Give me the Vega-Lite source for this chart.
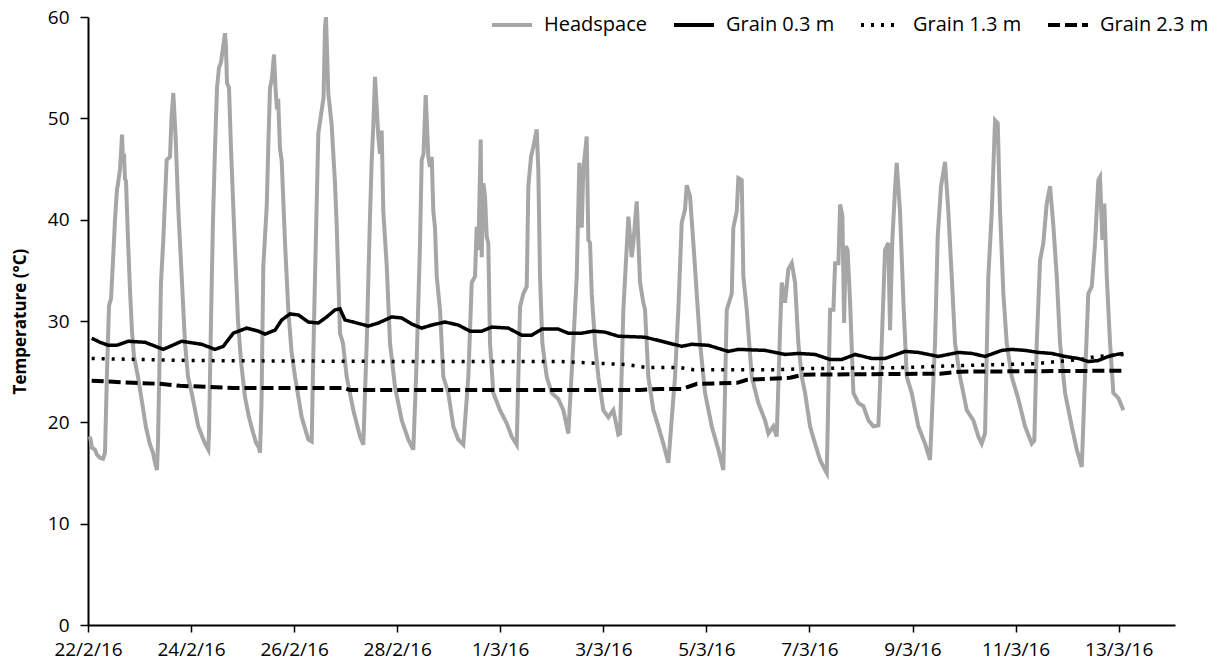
{
  "$schema": "https://vega.github.io/schema/vega-lite/v6.json",
  "width": 1087,
  "height": 608,
  "autosize": {"type": "none"},
  "padding": {"left": 88, "top": 17, "right": 47, "bottom": 38},
  "background": "white",
  "config": {
    "view": {"stroke": null},
    "font": "Open Sans",
    "axis": {"domainColor": "black", "domainWidth": 2, "tickColor": "black", "tickWidth": 1.5, "labelColor": "black", "labelFont": "Open Sans", "labelFontSize": 19, "grid": false}
  },
  "data": {"values": [
    {"t":"2016-02-22T00:56","s":"Headspace","v":18.6},
    {"t":"2016-02-22T01:52","s":"Headspace","v":17.5},
    {"t":"2016-02-22T03:16","s":"Headspace","v":17.3},
    {"t":"2016-02-22T04:11","s":"Headspace","v":16.8},
    {"t":"2016-02-22T05:35","s":"Headspace","v":16.5},
    {"t":"2016-02-22T06:59","s":"Headspace","v":16.4},
    {"t":"2016-02-22T07:55","s":"Headspace","v":17.0},
    {"t":"2016-02-22T08:51","s":"Headspace","v":25.0},
    {"t":"2016-02-22T09:47","s":"Headspace","v":31.5},
    {"t":"2016-02-22T10:43","s":"Headspace","v":32.2},
    {"t":"2016-02-22T11:39","s":"Headspace","v":36.0},
    {"t":"2016-02-22T12:35","s":"Headspace","v":40.0},
    {"t":"2016-02-22T13:30","s":"Headspace","v":43.0},
    {"t":"2016-02-22T13:58","s":"Headspace","v":43.5},
    {"t":"2016-02-22T14:54","s":"Headspace","v":45.0},
    {"t":"2016-02-22T15:22","s":"Headspace","v":46.5},
    {"t":"2016-02-22T15:50","s":"Headspace","v":48.4},
    {"t":"2016-02-22T16:18","s":"Headspace","v":46.0},
    {"t":"2016-02-22T16:46","s":"Headspace","v":46.5},
    {"t":"2016-02-22T17:14","s":"Headspace","v":44.0},
    {"t":"2016-02-22T17:42","s":"Headspace","v":43.8},
    {"t":"2016-02-22T18:38","s":"Headspace","v":38.0},
    {"t":"2016-02-22T19:34","s":"Headspace","v":33.0},
    {"t":"2016-02-22T20:29","s":"Headspace","v":29.0},
    {"t":"2016-02-22T21:25","s":"Headspace","v":26.5},
    {"t":"2016-02-22T23:17","s":"Headspace","v":24.5},
    {"t":"2016-02-23T01:09","s":"Headspace","v":22.0},
    {"t":"2016-02-23T03:01","s":"Headspace","v":19.5},
    {"t":"2016-02-23T04:53","s":"Headspace","v":17.8},
    {"t":"2016-02-23T06:16","s":"Headspace","v":17.0},
    {"t":"2016-02-23T07:13","s":"Headspace","v":16.0},
    {"t":"2016-02-23T08:08","s":"Headspace","v":15.3},
    {"t":"2016-02-23T08:36","s":"Headspace","v":18.0},
    {"t":"2016-02-23T10:00","s":"Headspace","v":33.8},
    {"t":"2016-02-23T11:04","s":"Headspace","v":38.0},
    {"t":"2016-02-23T12:39","s":"Headspace","v":45.9},
    {"t":"2016-02-23T14:12","s":"Headspace","v":46.2},
    {"t":"2016-02-23T14:53","s":"Headspace","v":50.0},
    {"t":"2016-02-23T15:44","s":"Headspace","v":52.5},
    {"t":"2016-02-23T16:51","s":"Headspace","v":47.9},
    {"t":"2016-02-23T18:04","s":"Headspace","v":41.0},
    {"t":"2016-02-23T19:38","s":"Headspace","v":34.4},
    {"t":"2016-02-23T21:11","s":"Headspace","v":27.8},
    {"t":"2016-02-23T22:35","s":"Headspace","v":24.5},
    {"t":"2016-02-24T00:18","s":"Headspace","v":22.9},
    {"t":"2016-02-24T03:22","s":"Headspace","v":19.6},
    {"t":"2016-02-24T06:30","s":"Headspace","v":17.9},
    {"t":"2016-02-24T08:02","s":"Headspace","v":17.3},
    {"t":"2016-02-24T08:22","s":"Headspace","v":19.0},
    {"t":"2016-02-24T09:17","s":"Headspace","v":30.0},
    {"t":"2016-02-24T10:13","s":"Headspace","v":40.0},
    {"t":"2016-02-24T11:09","s":"Headspace","v":47.0},
    {"t":"2016-02-24T12:05","s":"Headspace","v":53.0},
    {"t":"2016-02-24T13:01","s":"Headspace","v":55.0},
    {"t":"2016-02-24T13:56","s":"Headspace","v":55.5},
    {"t":"2016-02-24T14:53","s":"Headspace","v":57.0},
    {"t":"2016-02-24T15:49","s":"Headspace","v":58.4},
    {"t":"2016-02-24T16:16","s":"Headspace","v":57.0},
    {"t":"2016-02-24T16:44","s":"Headspace","v":53.5},
    {"t":"2016-02-24T17:40","s":"Headspace","v":53.0},
    {"t":"2016-02-24T18:36","s":"Headspace","v":47.0},
    {"t":"2016-02-24T19:32","s":"Headspace","v":42.0},
    {"t":"2016-02-24T20:28","s":"Headspace","v":37.0},
    {"t":"2016-02-24T21:52","s":"Headspace","v":30.0},
    {"t":"2016-02-24T23:16","s":"Headspace","v":26.0},
    {"t":"2016-02-25T01:07","s":"Headspace","v":22.5},
    {"t":"2016-02-25T02:59","s":"Headspace","v":20.5},
    {"t":"2016-02-25T04:51","s":"Headspace","v":19.0},
    {"t":"2016-02-25T06:15","s":"Headspace","v":18.0},
    {"t":"2016-02-25T07:38","s":"Headspace","v":17.5},
    {"t":"2016-02-25T08:07","s":"Headspace","v":17.0},
    {"t":"2016-02-25T08:49","s":"Headspace","v":22.0},
    {"t":"2016-02-25T09:39","s":"Headspace","v":35.4},
    {"t":"2016-02-25T11:14","s":"Headspace","v":41.3},
    {"t":"2016-02-25T12:04","s":"Headspace","v":48.0},
    {"t":"2016-02-25T12:46","s":"Headspace","v":53.0},
    {"t":"2016-02-25T13:42","s":"Headspace","v":54.0},
    {"t":"2016-02-25T14:38","s":"Headspace","v":56.3},
    {"t":"2016-02-25T15:20","s":"Headspace","v":53.0},
    {"t":"2016-02-25T15:53","s":"Headspace","v":51.3},
    {"t":"2016-02-25T16:38","s":"Headspace","v":51.5},
    {"t":"2016-02-25T17:25","s":"Headspace","v":47.0},
    {"t":"2016-02-25T18:13","s":"Headspace","v":45.8},
    {"t":"2016-02-25T19:46","s":"Headspace","v":37.7},
    {"t":"2016-02-25T21:17","s":"Headspace","v":31.1},
    {"t":"2016-02-25T22:47","s":"Headspace","v":27.0},
    {"t":"2016-02-26T00:25","s":"Headspace","v":24.5},
    {"t":"2016-02-26T03:32","s":"Headspace","v":20.5},
    {"t":"2016-02-26T06:37","s":"Headspace","v":18.3},
    {"t":"2016-02-26T08:11","s":"Headspace","v":18.1},
    {"t":"2016-02-26T08:47","s":"Headspace","v":25.0},
    {"t":"2016-02-26T09:44","s":"Headspace","v":34.4},
    {"t":"2016-02-26T11:16","s":"Headspace","v":48.5},
    {"t":"2016-02-26T12:50","s":"Headspace","v":50.8},
    {"t":"2016-02-26T13:41","s":"Headspace","v":52.0},
    {"t":"2016-02-26T14:23","s":"Headspace","v":59.0},
    {"t":"2016-02-26T14:51","s":"Headspace","v":60.0},
    {"t":"2016-02-26T15:55","s":"Headspace","v":52.5},
    {"t":"2016-02-26T17:30","s":"Headspace","v":49.3},
    {"t":"2016-02-26T19:02","s":"Headspace","v":43.6},
    {"t":"2016-02-26T19:50","s":"Headspace","v":39.4},
    {"t":"2016-02-26T21:22","s":"Headspace","v":28.8},
    {"t":"2016-02-26T22:46","s":"Headspace","v":27.8},
    {"t":"2016-02-27T00:29","s":"Headspace","v":24.5},
    {"t":"2016-02-27T03:34","s":"Headspace","v":21.2},
    {"t":"2016-02-27T06:41","s":"Headspace","v":18.6},
    {"t":"2016-02-27T08:13","s":"Headspace","v":17.8},
    {"t":"2016-02-27T09:48","s":"Headspace","v":27.8},
    {"t":"2016-02-27T11:20","s":"Headspace","v":40.3},
    {"t":"2016-02-27T12:08","s":"Headspace","v":45.9},
    {"t":"2016-02-27T12:53","s":"Headspace","v":49.3},
    {"t":"2016-02-27T13:40","s":"Headspace","v":54.1},
    {"t":"2016-02-27T15:13","s":"Headspace","v":48.2},
    {"t":"2016-02-27T16:00","s":"Headspace","v":46.5},
    {"t":"2016-02-27T16:47","s":"Headspace","v":48.8},
    {"t":"2016-02-27T17:32","s":"Headspace","v":40.8},
    {"t":"2016-02-27T19:07","s":"Headspace","v":35.5},
    {"t":"2016-02-27T20:40","s":"Headspace","v":27.8},
    {"t":"2016-02-27T22:59","s":"Headspace","v":23.5},
    {"t":"2016-02-28T02:07","s":"Headspace","v":20.2},
    {"t":"2016-02-28T05:11","s":"Headspace","v":18.3},
    {"t":"2016-02-28T07:31","s":"Headspace","v":17.3},
    {"t":"2016-02-28T09:05","s":"Headspace","v":26.2},
    {"t":"2016-02-28T10:38","s":"Headspace","v":37.7},
    {"t":"2016-02-28T11:25","s":"Headspace","v":45.9},
    {"t":"2016-02-28T12:16","s":"Headspace","v":46.5},
    {"t":"2016-02-28T13:17","s":"Headspace","v":52.3},
    {"t":"2016-02-28T14:30","s":"Headspace","v":46.2},
    {"t":"2016-02-28T15:17","s":"Headspace","v":45.2},
    {"t":"2016-02-28T16:05","s":"Headspace","v":46.2},
    {"t":"2016-02-28T16:50","s":"Headspace","v":40.8},
    {"t":"2016-02-28T17:37","s":"Headspace","v":39.2},
    {"t":"2016-02-28T18:25","s":"Headspace","v":34.4},
    {"t":"2016-02-28T19:57","s":"Headspace","v":31.1},
    {"t":"2016-02-28T21:29","s":"Headspace","v":24.5},
    {"t":"2016-02-28T23:49","s":"Headspace","v":22.9},
    {"t":"2016-02-29T02:08","s":"Headspace","v":19.6},
    {"t":"2016-02-29T04:28","s":"Headspace","v":18.3},
    {"t":"2016-02-29T06:48","s":"Headspace","v":17.8},
    {"t":"2016-02-29T09:08","s":"Headspace","v":24.5},
    {"t":"2016-02-29T10:43","s":"Headspace","v":33.8},
    {"t":"2016-02-29T12:15","s":"Headspace","v":34.4},
    {"t":"2016-02-29T13:02","s":"Headspace","v":39.3},
    {"t":"2016-02-29T13:47","s":"Headspace","v":37.0},
    {"t":"2016-02-29T14:54","s":"Headspace","v":47.9},
    {"t":"2016-02-29T15:22","s":"Headspace","v":36.3},
    {"t":"2016-02-29T16:07","s":"Headspace","v":43.6},
    {"t":"2016-02-29T16:54","s":"Headspace","v":42.3},
    {"t":"2016-02-29T17:42","s":"Headspace","v":38.3},
    {"t":"2016-02-29T18:26","s":"Headspace","v":37.7},
    {"t":"2016-02-29T19:14","s":"Headspace","v":27.8},
    {"t":"2016-02-29T20:46","s":"Headspace","v":22.9},
    {"t":"2016-02-29T23:53","s":"Headspace","v":21.2},
    {"t":"2016-03-01T03:01","s":"Headspace","v":19.9},
    {"t":"2016-03-01T05:20","s":"Headspace","v":18.6},
    {"t":"2016-03-01T07:40","s":"Headspace","v":17.8},
    {"t":"2016-03-01T09:13","s":"Headspace","v":31.4},
    {"t":"2016-03-01T10:45","s":"Headspace","v":32.7},
    {"t":"2016-03-01T12:20","s":"Headspace","v":33.4},
    {"t":"2016-03-01T13:05","s":"Headspace","v":43.3},
    {"t":"2016-03-01T14:20","s":"Headspace","v":46.2},
    {"t":"2016-03-01T15:24","s":"Headspace","v":47.2},
    {"t":"2016-03-01T16:59","s":"Headspace","v":48.9},
    {"t":"2016-03-01T17:44","s":"Headspace","v":44.9},
    {"t":"2016-03-01T18:31","s":"Headspace","v":34.4},
    {"t":"2016-03-01T19:36","s":"Headspace","v":27.8},
    {"t":"2016-03-01T21:38","s":"Headspace","v":24.5},
    {"t":"2016-03-01T23:58","s":"Headspace","v":22.9},
    {"t":"2016-03-02T03:03","s":"Headspace","v":22.3},
    {"t":"2016-03-02T05:23","s":"Headspace","v":21.2},
    {"t":"2016-03-02T07:42","s":"Headspace","v":18.9},
    {"t":"2016-03-02T10:02","s":"Headspace","v":27.8},
    {"t":"2016-03-02T11:37","s":"Headspace","v":34.4},
    {"t":"2016-03-02T12:50","s":"Headspace","v":45.6},
    {"t":"2016-03-02T13:57","s":"Headspace","v":39.2},
    {"t":"2016-03-02T14:41","s":"Headspace","v":44.9},
    {"t":"2016-03-02T16:16","s":"Headspace","v":48.2},
    {"t":"2016-03-02T17:01","s":"Headspace","v":38.0},
    {"t":"2016-03-02T17:49","s":"Headspace","v":37.7},
    {"t":"2016-03-02T18:36","s":"Headspace","v":32.7},
    {"t":"2016-03-02T20:08","s":"Headspace","v":27.8},
    {"t":"2016-03-02T21:41","s":"Headspace","v":24.5},
    {"t":"2016-03-03T00:01","s":"Headspace","v":21.2},
    {"t":"2016-03-03T02:20","s":"Headspace","v":20.5},
    {"t":"2016-03-03T04:40","s":"Headspace","v":21.2},
    {"t":"2016-03-03T06:59","s":"Headspace","v":18.8},
    {"t":"2016-03-03T07:47","s":"Headspace","v":18.9},
    {"t":"2016-03-03T09:20","s":"Headspace","v":31.1},
    {"t":"2016-03-03T11:40","s":"Headspace","v":40.3},
    {"t":"2016-03-03T13:14","s":"Headspace","v":36.3},
    {"t":"2016-03-03T13:59","s":"Headspace","v":37.7},
    {"t":"2016-03-03T15:34","s":"Headspace","v":41.8},
    {"t":"2016-03-03T17:06","s":"Headspace","v":33.8},
    {"t":"2016-03-03T18:38","s":"Headspace","v":31.8},
    {"t":"2016-03-03T19:26","s":"Headspace","v":31.1},
    {"t":"2016-03-03T20:58","s":"Headspace","v":24.5},
    {"t":"2016-03-03T23:18","s":"Headspace","v":21.2},
    {"t":"2016-03-04T01:38","s":"Headspace","v":19.6},
    {"t":"2016-03-04T03:57","s":"Headspace","v":17.9},
    {"t":"2016-03-04T06:17","s":"Headspace","v":16.0},
    {"t":"2016-03-04T09:24","s":"Headspace","v":24.5},
    {"t":"2016-03-04T10:56","s":"Headspace","v":31.1},
    {"t":"2016-03-04T12:31","s":"Headspace","v":39.7},
    {"t":"2016-03-04T14:04","s":"Headspace","v":41.0},
    {"t":"2016-03-04T14:51","s":"Headspace","v":43.4},
    {"t":"2016-03-04T16:23","s":"Headspace","v":42.3},
    {"t":"2016-03-04T17:56","s":"Headspace","v":37.7},
    {"t":"2016-03-04T19:31","s":"Headspace","v":32.7},
    {"t":"2016-03-04T21:03","s":"Headspace","v":27.8},
    {"t":"2016-03-04T23:23","s":"Headspace","v":22.9},
    {"t":"2016-03-05T02:30","s":"Headspace","v":19.6},
    {"t":"2016-03-05T05:34","s":"Headspace","v":17.3},
    {"t":"2016-03-05T07:54","s":"Headspace","v":15.3},
    {"t":"2016-03-05T09:29","s":"Headspace","v":31.1},
    {"t":"2016-03-05T11:49","s":"Headspace","v":32.7},
    {"t":"2016-03-05T12:33","s":"Headspace","v":39.2},
    {"t":"2016-03-05T14:08","s":"Headspace","v":40.8},
    {"t":"2016-03-05T14:53","s":"Headspace","v":44.1},
    {"t":"2016-03-05T16:28","s":"Headspace","v":43.9},
    {"t":"2016-03-05T17:13","s":"Headspace","v":34.4},
    {"t":"2016-03-05T18:48","s":"Headspace","v":31.1},
    {"t":"2016-03-05T21:08","s":"Headspace","v":24.5},
    {"t":"2016-03-06T00:12","s":"Headspace","v":21.9},
    {"t":"2016-03-06T03:19","s":"Headspace","v":20.2},
    {"t":"2016-03-06T04:52","s":"Headspace","v":18.9},
    {"t":"2016-03-06T07:11","s":"Headspace","v":19.6},
    {"t":"2016-03-06T08:46","s":"Headspace","v":18.6},
    {"t":"2016-03-06T10:19","s":"Headspace","v":29.1},
    {"t":"2016-03-06T11:06","s":"Headspace","v":33.8},
    {"t":"2016-03-06T12:38","s":"Headspace","v":31.8},
    {"t":"2016-03-06T14:10","s":"Headspace","v":35.1},
    {"t":"2016-03-06T15:46","s":"Headspace","v":35.7},
    {"t":"2016-03-06T17:18","s":"Headspace","v":33.8},
    {"t":"2016-03-06T18:50","s":"Headspace","v":27.8},
    {"t":"2016-03-06T20:25","s":"Headspace","v":24.5},
    {"t":"2016-03-06T21:58","s":"Headspace","v":22.9},
    {"t":"2016-03-07T00:17","s":"Headspace","v":19.6},
    {"t":"2016-03-07T02:37","s":"Headspace","v":17.9},
    {"t":"2016-03-07T04:56","s":"Headspace","v":16.3},
    {"t":"2016-03-07T07:16","s":"Headspace","v":15.3},
    {"t":"2016-03-07T08:04","s":"Headspace","v":15.0},
    {"t":"2016-03-07T09:37","s":"Headspace","v":31.1},
    {"t":"2016-03-07T11:10","s":"Headspace","v":31.1},
    {"t":"2016-03-07T11:57","s":"Headspace","v":35.7},
    {"t":"2016-03-07T13:29","s":"Headspace","v":35.7},
    {"t":"2016-03-07T14:17","s":"Headspace","v":41.5},
    {"t":"2016-03-07T15:21","s":"Headspace","v":40.4},
    {"t":"2016-03-07T16:08","s":"Headspace","v":29.8},
    {"t":"2016-03-07T16:56","s":"Headspace","v":37.4},
    {"t":"2016-03-07T17:46","s":"Headspace","v":37.0},
    {"t":"2016-03-07T18:56","s":"Headspace","v":31.8},
    {"t":"2016-03-07T20:28","s":"Headspace","v":22.9},
    {"t":"2016-03-07T22:48","s":"Headspace","v":21.9},
    {"t":"2016-03-08T01:08","s":"Headspace","v":21.6},
    {"t":"2016-03-08T03:28","s":"Headspace","v":20.2},
    {"t":"2016-03-08T05:47","s":"Headspace","v":19.6},
    {"t":"2016-03-08T08:07","s":"Headspace","v":19.7},
    {"t":"2016-03-08T09:40","s":"Headspace","v":27.8},
    {"t":"2016-03-08T11:12","s":"Headspace","v":37.0},
    {"t":"2016-03-08T12:44","s":"Headspace","v":37.7},
    {"t":"2016-03-08T13:32","s":"Headspace","v":29.1},
    {"t":"2016-03-08T14:36","s":"Headspace","v":38.0},
    {"t":"2016-03-08T15:52","s":"Headspace","v":43.0},
    {"t":"2016-03-08T16:39","s":"Headspace","v":45.6},
    {"t":"2016-03-08T18:11","s":"Headspace","v":40.8},
    {"t":"2016-03-08T19:44","s":"Headspace","v":32.0},
    {"t":"2016-03-08T21:19","s":"Headspace","v":24.5},
    {"t":"2016-03-08T23:38","s":"Headspace","v":22.9},
    {"t":"2016-03-09T02:43","s":"Headspace","v":19.6},
    {"t":"2016-03-09T05:50","s":"Headspace","v":17.9},
    {"t":"2016-03-09T08:10","s":"Headspace","v":16.3},
    {"t":"2016-03-09T10:29","s":"Headspace","v":27.8},
    {"t":"2016-03-09T11:45","s":"Headspace","v":38.4},
    {"t":"2016-03-09T13:17","s":"Headspace","v":43.3},
    {"t":"2016-03-09T15:09","s":"Headspace","v":45.7},
    {"t":"2016-03-09T16:41","s":"Headspace","v":40.8},
    {"t":"2016-03-09T18:16","s":"Headspace","v":34.4},
    {"t":"2016-03-09T19:49","s":"Headspace","v":27.8},
    {"t":"2016-03-09T22:08","s":"Headspace","v":24.5},
    {"t":"2016-03-10T01:16","s":"Headspace","v":21.2},
    {"t":"2016-03-10T04:20","s":"Headspace","v":20.2},
    {"t":"2016-03-10T06:40","s":"Headspace","v":18.6},
    {"t":"2016-03-10T08:14","s":"Headspace","v":17.9},
    {"t":"2016-03-10T09:47","s":"Headspace","v":18.9},
    {"t":"2016-03-10T11:19","s":"Headspace","v":34.4},
    {"t":"2016-03-10T12:55","s":"Headspace","v":40.8},
    {"t":"2016-03-10T14:27","s":"Headspace","v":49.8},
    {"t":"2016-03-10T15:42","s":"Headspace","v":49.5},
    {"t":"2016-03-10T16:46","s":"Headspace","v":40.8},
    {"t":"2016-03-10T18:19","s":"Headspace","v":32.7},
    {"t":"2016-03-10T19:53","s":"Headspace","v":27.8},
    {"t":"2016-03-10T22:13","s":"Headspace","v":24.5},
    {"t":"2016-03-11T01:17","s":"Headspace","v":22.3},
    {"t":"2016-03-11T04:25","s":"Headspace","v":19.6},
    {"t":"2016-03-11T07:32","s":"Headspace","v":17.9},
    {"t":"2016-03-11T08:44","s":"Headspace","v":18.2},
    {"t":"2016-03-11T09:52","s":"Headspace","v":27.8},
    {"t":"2016-03-11T11:24","s":"Headspace","v":36.0},
    {"t":"2016-03-11T12:56","s":"Headspace","v":37.7},
    {"t":"2016-03-11T14:31","s":"Headspace","v":41.6},
    {"t":"2016-03-11T16:04","s":"Headspace","v":43.3},
    {"t":"2016-03-11T17:36","s":"Headspace","v":39.4},
    {"t":"2016-03-11T19:11","s":"Headspace","v":34.4},
    {"t":"2016-03-11T20:43","s":"Headspace","v":27.8},
    {"t":"2016-03-11T23:03","s":"Headspace","v":22.9},
    {"t":"2016-03-12T02:10","s":"Headspace","v":19.6},
    {"t":"2016-03-12T04:30","s":"Headspace","v":17.3},
    {"t":"2016-03-12T06:50","s":"Headspace","v":15.6},
    {"t":"2016-03-12T08:21","s":"Headspace","v":24.5},
    {"t":"2016-03-12T09:53","s":"Headspace","v":32.7},
    {"t":"2016-03-12T11:29","s":"Headspace","v":33.4},
    {"t":"2016-03-12T13:01","s":"Headspace","v":37.7},
    {"t":"2016-03-12T14:33","s":"Headspace","v":43.9},
    {"t":"2016-03-12T15:20","s":"Headspace","v":44.2},
    {"t":"2016-03-12T16:25","s":"Headspace","v":38.0},
    {"t":"2016-03-12T17:20","s":"Headspace","v":41.6},
    {"t":"2016-03-12T18:28","s":"Headspace","v":34.4},
    {"t":"2016-03-12T20:00","s":"Headspace","v":27.8},
    {"t":"2016-03-12T21:32","s":"Headspace","v":22.9},
    {"t":"2016-03-12T23:52","s":"Headspace","v":22.4},
    {"t":"2016-03-13T02:12","s":"Headspace","v":21.2},

    {"t":"2016-02-22T01:43","s":"Grain 0.3 m","v":28.3},
    {"t":"2016-02-22T05:35","s":"Grain 0.3 m","v":27.9},
    {"t":"2016-02-22T09:27","s":"Grain 0.3 m","v":27.6},
    {"t":"2016-02-22T13:22","s":"Grain 0.3 m","v":27.6},
    {"t":"2016-02-22T18:46","s":"Grain 0.3 m","v":28.0},
    {"t":"2016-02-23T02:33","s":"Grain 0.3 m","v":27.9},
    {"t":"2016-02-23T11:04","s":"Grain 0.3 m","v":27.2},
    {"t":"2016-02-23T19:38","s":"Grain 0.3 m","v":28.0},
    {"t":"2016-02-24T04:58","s":"Grain 0.3 m","v":27.7},
    {"t":"2016-02-24T11:09","s":"Grain 0.3 m","v":27.2},
    {"t":"2016-02-24T15:01","s":"Grain 0.3 m","v":27.5},
    {"t":"2016-02-24T19:40","s":"Grain 0.3 m","v":28.8},
    {"t":"2016-02-25T01:55","s":"Grain 0.3 m","v":29.3},
    {"t":"2016-02-25T07:19","s":"Grain 0.3 m","v":29.0},
    {"t":"2016-02-25T10:26","s":"Grain 0.3 m","v":28.7},
    {"t":"2016-02-25T15:06","s":"Grain 0.3 m","v":29.1},
    {"t":"2016-02-25T18:13","s":"Grain 0.3 m","v":30.1},
    {"t":"2016-02-25T22:05","s":"Grain 0.3 m","v":30.7},
    {"t":"2016-02-26T01:57","s":"Grain 0.3 m","v":30.6},
    {"t":"2016-02-26T06:37","s":"Grain 0.3 m","v":29.9},
    {"t":"2016-02-26T11:16","s":"Grain 0.3 m","v":29.8},
    {"t":"2016-02-26T15:10","s":"Grain 0.3 m","v":30.4},
    {"t":"2016-02-26T19:02","s":"Grain 0.3 m","v":31.1},
    {"t":"2016-02-26T21:22","s":"Grain 0.3 m","v":31.2},
    {"t":"2016-02-26T23:42","s":"Grain 0.3 m","v":30.1},
    {"t":"2016-02-27T03:34","s":"Grain 0.3 m","v":29.9},
    {"t":"2016-02-27T10:33","s":"Grain 0.3 m","v":29.5},
    {"t":"2016-02-27T15:13","s":"Grain 0.3 m","v":29.8},
    {"t":"2016-02-27T21:27","s":"Grain 0.3 m","v":30.4},
    {"t":"2016-02-28T02:07","s":"Grain 0.3 m","v":30.3},
    {"t":"2016-02-28T06:46","s":"Grain 0.3 m","v":29.7},
    {"t":"2016-02-28T11:25","s":"Grain 0.3 m","v":29.3},
    {"t":"2016-02-28T16:05","s":"Grain 0.3 m","v":29.6},
    {"t":"2016-02-28T22:16","s":"Grain 0.3 m","v":29.9},
    {"t":"2016-02-29T04:28","s":"Grain 0.3 m","v":29.6},
    {"t":"2016-02-29T09:55","s":"Grain 0.3 m","v":29.0},
    {"t":"2016-02-29T15:22","s":"Grain 0.3 m","v":29.0},
    {"t":"2016-02-29T20:02","s":"Grain 0.3 m","v":29.4},
    {"t":"2016-03-01T03:46","s":"Grain 0.3 m","v":29.3},
    {"t":"2016-03-01T10:00","s":"Grain 0.3 m","v":28.6},
    {"t":"2016-03-01T14:40","s":"Grain 0.3 m","v":28.6},
    {"t":"2016-03-01T19:19","s":"Grain 0.3 m","v":29.2},
    {"t":"2016-03-02T03:03","s":"Grain 0.3 m","v":29.2},
    {"t":"2016-03-02T07:42","s":"Grain 0.3 m","v":28.8},
    {"t":"2016-03-02T13:57","s":"Grain 0.3 m","v":28.8},
    {"t":"2016-03-02T19:21","s":"Grain 0.3 m","v":29.0},
    {"t":"2016-03-03T00:47","s":"Grain 0.3 m","v":28.9},
    {"t":"2016-03-03T06:59","s":"Grain 0.3 m","v":28.5},
    {"t":"2016-03-03T19:26","s":"Grain 0.3 m","v":28.4},
    {"t":"2016-03-04T03:12","s":"Grain 0.3 m","v":28.0},
    {"t":"2016-03-04T12:31","s":"Grain 0.3 m","v":27.5},
    {"t":"2016-03-04T17:11","s":"Grain 0.3 m","v":27.7},
    {"t":"2016-03-05T00:54","s":"Grain 0.3 m","v":27.6},
    {"t":"2016-03-05T10:13","s":"Grain 0.3 m","v":27.0},
    {"t":"2016-03-05T14:53","s":"Grain 0.3 m","v":27.2},
    {"t":"2016-03-06T03:19","s":"Grain 0.3 m","v":27.1},
    {"t":"2016-03-06T12:38","s":"Grain 0.3 m","v":26.7},
    {"t":"2016-03-06T18:50","s":"Grain 0.3 m","v":26.8},
    {"t":"2016-03-07T02:37","s":"Grain 0.3 m","v":26.7},
    {"t":"2016-03-07T09:37","s":"Grain 0.3 m","v":26.2},
    {"t":"2016-03-07T15:04","s":"Grain 0.3 m","v":26.2},
    {"t":"2016-03-07T21:16","s":"Grain 0.3 m","v":26.7},
    {"t":"2016-03-08T05:01","s":"Grain 0.3 m","v":26.3},
    {"t":"2016-03-08T11:12","s":"Grain 0.3 m","v":26.3},
    {"t":"2016-03-08T20:31","s":"Grain 0.3 m","v":27.0},
    {"t":"2016-03-09T02:43","s":"Grain 0.3 m","v":26.9},
    {"t":"2016-03-09T12:01","s":"Grain 0.3 m","v":26.5},
    {"t":"2016-03-09T21:20","s":"Grain 0.3 m","v":26.9},
    {"t":"2016-03-10T03:35","s":"Grain 0.3 m","v":26.8},
    {"t":"2016-03-10T09:47","s":"Grain 0.3 m","v":26.5},
    {"t":"2016-03-10T17:34","s":"Grain 0.3 m","v":27.1},
    {"t":"2016-03-10T22:13","s":"Grain 0.3 m","v":27.2},
    {"t":"2016-03-11T04:25","s":"Grain 0.3 m","v":27.1},
    {"t":"2016-03-11T10:36","s":"Grain 0.3 m","v":26.9},
    {"t":"2016-03-11T16:50","s":"Grain 0.3 m","v":26.8},
    {"t":"2016-03-11T23:02","s":"Grain 0.3 m","v":26.5},
    {"t":"2016-03-12T05:14","s":"Grain 0.3 m","v":26.3},
    {"t":"2016-03-12T09:53","s":"Grain 0.3 m","v":26.0},
    {"t":"2016-03-12T14:33","s":"Grain 0.3 m","v":26.1},
    {"t":"2016-03-12T19:13","s":"Grain 0.3 m","v":26.5},
    {"t":"2016-03-12T23:07","s":"Grain 0.3 m","v":26.7},
    {"t":"2016-03-13T02:12","s":"Grain 0.3 m","v":26.8},

    {"t":"2016-02-22T01:43","s":"Grain 1.3 m","v":26.3},
    {"t":"2016-02-23T23:31","s":"Grain 1.3 m","v":26.1},
    {"t":"2016-02-28T01:19","s":"Grain 1.3 m","v":26.0},
    {"t":"2016-03-02T03:50","s":"Grain 1.3 m","v":26.0},
    {"t":"2016-03-02T13:10","s":"Grain 1.3 m","v":25.9},
    {"t":"2016-03-03T11:03","s":"Grain 1.3 m","v":25.7},
    {"t":"2016-03-03T20:22","s":"Grain 1.3 m","v":25.4},
    {"t":"2016-03-04T11:44","s":"Grain 1.3 m","v":25.4},
    {"t":"2016-03-04T17:48","s":"Grain 1.3 m","v":25.2},
    {"t":"2016-03-06T10:19","s":"Grain 1.3 m","v":25.2},
    {"t":"2016-03-06T21:01","s":"Grain 1.3 m","v":25.3},
    {"t":"2016-03-08T18:11","s":"Grain 1.3 m","v":25.4},
    {"t":"2016-03-09T22:08","s":"Grain 1.3 m","v":25.6},
    {"t":"2016-03-11T10:00","s":"Grain 1.3 m","v":25.8},
    {"t":"2016-03-11T19:19","s":"Grain 1.3 m","v":26.0},
    {"t":"2016-03-12T06:01","s":"Grain 1.3 m","v":26.2},
    {"t":"2016-03-12T13:56","s":"Grain 1.3 m","v":26.5},
    {"t":"2016-03-13T02:12","s":"Grain 1.3 m","v":26.7},

    {"t":"2016-02-22T01:43","s":"Grain 2.3 m","v":24.1},
    {"t":"2016-02-22T11:39","s":"Grain 2.3 m","v":24.0},
    {"t":"2016-02-22T20:57","s":"Grain 2.3 m","v":23.9},
    {"t":"2016-02-23T09:32","s":"Grain 2.3 m","v":23.8},
    {"t":"2016-02-23T18:51","s":"Grain 2.3 m","v":23.6},
    {"t":"2016-02-24T19:32","s":"Grain 2.3 m","v":23.4},
    {"t":"2016-02-26T22:46","s":"Grain 2.3 m","v":23.4},
    {"t":"2016-02-27T02:02","s":"Grain 2.3 m","v":23.2},
    {"t":"2016-03-03T17:06","s":"Grain 2.3 m","v":23.2},
    {"t":"2016-03-04T02:25","s":"Grain 2.3 m","v":23.3},
    {"t":"2016-03-04T12:40","s":"Grain 2.3 m","v":23.3},
    {"t":"2016-03-04T19:39","s":"Grain 2.3 m","v":23.8},
    {"t":"2016-03-05T14:17","s":"Grain 2.3 m","v":23.9},
    {"t":"2016-03-05T18:57","s":"Grain 2.3 m","v":24.2},
    {"t":"2016-03-06T14:57","s":"Grain 2.3 m","v":24.4},
    {"t":"2016-03-06T21:01","s":"Grain 2.3 m","v":24.7},
    {"t":"2016-03-09T12:49","s":"Grain 2.3 m","v":24.8},
    {"t":"2016-03-09T22:08","s":"Grain 2.3 m","v":25.0},
    {"t":"2016-03-13T02:12","s":"Grain 2.3 m","v":25.1}
  ]},
  "mark": {"type": "line", "clip": true},
  "encoding": {
    "x": {
      "field": "t", "type": "temporal",
      "scale": {"domain": [{"year": 2016, "month": 2, "date": 22}, {"year": 2016, "month": 3, "date": 14, "hours": 2, "minutes": 15}]},
      "axis": {
        "title": null, "format": "%-d/%-m/%y", "tickSize": 7, "labelPadding": 8, "labelFlush": false, "labelOverlap": false,
        "values": [
          {"year": 2016, "month": 2, "date": 22}, {"year": 2016, "month": 2, "date": 24}, {"year": 2016, "month": 2, "date": 26},
          {"year": 2016, "month": 2, "date": 28}, {"year": 2016, "month": 3, "date": 1}, {"year": 2016, "month": 3, "date": 3},
          {"year": 2016, "month": 3, "date": 5}, {"year": 2016, "month": 3, "date": 7}, {"year": 2016, "month": 3, "date": 9},
          {"year": 2016, "month": 3, "date": 11}, {"year": 2016, "month": 3, "date": 13}
        ]
      }
    },
    "y": {
      "field": "v", "type": "quantitative",
      "scale": {"domain": [0, 60], "nice": false, "zero": true},
      "axis": {"title": "Temperature (°C)", "titleFont": "Open Sans", "titleFontSize": 17, "titleFontWeight": "bold", "titleColor": "black", "titlePadding": 18, "values": [0, 10, 20, 30, 40, 50, 60], "tickSize": 8, "labelPadding": 11}
    },
    "color": {
      "field": "s", "type": "nominal",
      "scale": {"domain": ["Headspace", "Grain 0.3 m", "Grain 1.3 m", "Grain 2.3 m"], "range": ["#A6A6A6", "#000000", "#000000", "#000000"]},
      "legend": {
        "title": null, "orient": "none", "direction": "horizontal", "legendX": 402, "legendY": -14,
        "symbolType": "stroke", "symbolSize": 1600, "symbolStrokeWidth": 4,
        "labelFont": "Open Sans", "labelFontSize": 20, "labelColor": "black", "labelOffset": 10, "columnPadding": 18, "padding": 0, "labelLimit": 300
      }
    },
    "strokeDash": {
      "field": "s", "type": "nominal",
      "scale": {"domain": ["Headspace", "Grain 0.3 m", "Grain 1.3 m", "Grain 2.3 m"], "range": [[1, 0], [1, 0], [3, 7], [12, 5]]},
      "legend": {
        "title": null, "orient": "none", "direction": "horizontal", "legendX": 402, "legendY": -14,
        "symbolType": "stroke", "symbolSize": 1600, "symbolStrokeWidth": 4,
        "labelFont": "Open Sans", "labelFontSize": 20, "labelColor": "black", "labelOffset": 10, "columnPadding": 18, "padding": 0, "labelLimit": 300
      }
    },
    "strokeWidth": {
      "condition": [
        {"test": "datum.s === 'Headspace'", "value": 4},
        {"test": "datum.s === 'Grain 2.3 m'", "value": 4}
      ],
      "value": 3.5
    }
  }
}
